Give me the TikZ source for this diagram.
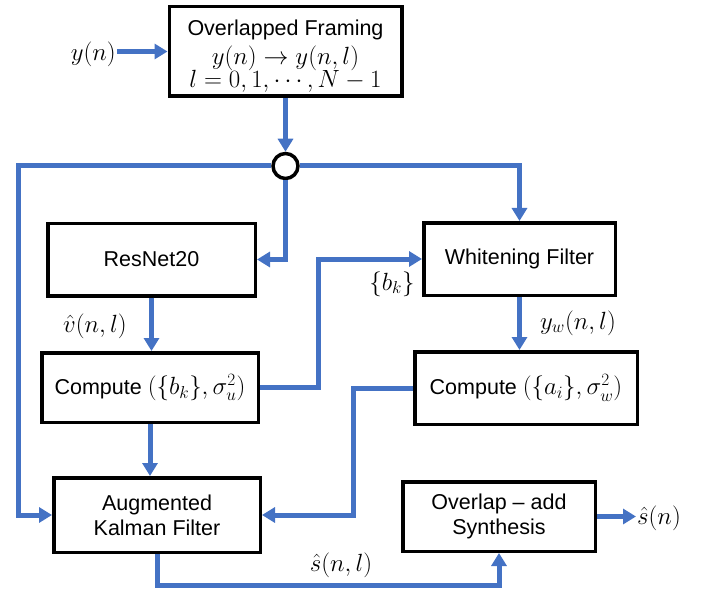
\documentclass[tikz,border=0pt]{standalone}
\usepackage{fontspec}
\setmainfont{Liberation Sans}
\usetikzlibrary{arrows.meta,calc}
\definecolor{flowblue}{HTML}{4472C4}
% formulas are set a little larger than the block text
\newcommand{\mth}[1]{{\fontsize{24}{28}\selectfont$#1$}}
\begin{document}
\begin{tikzpicture}[x=1pt,y=-1pt,
  blk/.style={draw=black,line width=3.5pt,fill=white,align=center,inner sep=0pt,
    font=\fontsize{21.5}{25}\selectfont},
  flow/.style={draw=flowblue,line width=5pt,-{Triangle[length=13pt,width=15pt]}},
  lbl/.style={inner sep=1pt}]
\useasboundingbox (0,0) rectangle (702,591);

% processing blocks
\node[blk,minimum width=232.5pt,minimum height=89.5pt] (frame) at (285.5,51.5)
  {\rule{0pt}{24.5pt}Overlapped Framing\\[4.5pt] \mth{y(n)\rightarrow y(n,l)}\\[-2pt] \mth{l=0,1,\cdots,N-1}};
\node[draw=black,line width=3.5pt,fill=white,circle,minimum size=25pt,inner sep=0pt] (circ) at (285.5,166) {};
\node[blk,minimum width=207.5pt,minimum height=72.5pt] (res) at (151.5,259.5) {ResNet20};
\node[blk,minimum width=191.5pt,minimum height=72.5pt] (wf) at (519.5,259) {Whitening Filter};
\node[blk,minimum width=216.5pt,minimum height=69.5pt] (cl) at (150,387.5) {Compute \mth{(\{b_k\},\sigma_u^2)}};
\node[blk,minimum width=222.5pt,minimum height=72.5pt] (cr) at (526,388) {Compute \mth{(\{a_i\},\sigma_w^2)}};
\node[blk,minimum width=206.5pt,minimum height=74.5pt] (akf) at (157,515) {Augmented\\Kalman Filter};
\node[blk,minimum width=192.5pt,minimum height=69.5pt] (ola) at (499,516.5) {Overlap -- add\\Synthesis};

% signal labels
\node[lbl,anchor=east] (yn) at (117,54) {\mth{y(n)}};
\node[lbl] (vhat) at (95,326) {\mth{\hat{v}(n,l)}};
\node[lbl] (bk) at (392,284) {\mth{\{b_k\}}};
\node[lbl] (yw) at (578,323) {\mth{y_w(n,l)}};
\node[lbl] (shl) at (341,565) {\mth{\hat{s}(n,l)}};
\node[lbl,anchor=west] (sout) at (636,518) {\mth{\hat{s}(n)}};

% routing corners
\coordinate (xl) at (18,300);
\coordinate (xm) at (318,300);
\coordinate (xr) at (353,450);
\coordinate (yb) at (300,585);

% connectors
\draw[flow] (yn.east |- frame.west) -- (frame.west);
\draw[flow] (frame.south) -- (circ.north);
\draw[flow] (circ.west) -| (xl) |- (akf.west);
\draw[flow] (circ.east) -| (wf.north);
\draw[flow] (circ.south) |- (res.east);
\draw[flow] (res.south) -- (res.south |- cl.north);
\draw[flow] (cl.south) -- (cl.south |- akf.north);
\draw[flow] (cl.east) -| (xm) |- (wf.west);
\draw[flow] (wf.south) -- (wf.south |- cr.north);
\draw[flow] (cr.west) -| (xr) |- (akf.east);
\draw[flow] (akf.south) |- (yb) -| (ola.south);
\draw[flow] (ola.east) -- (sout.west |- ola.east);
\end{tikzpicture}
\end{document}
